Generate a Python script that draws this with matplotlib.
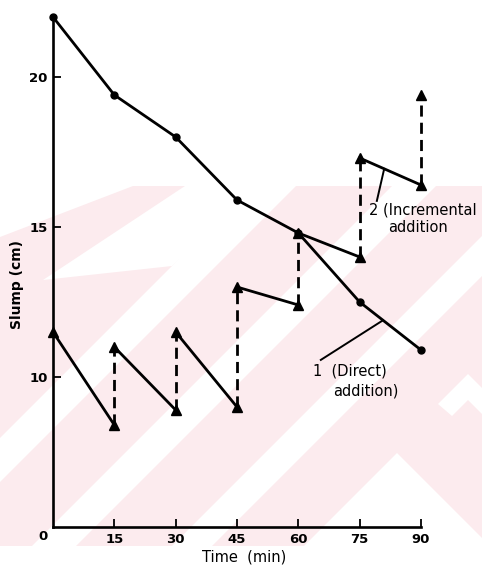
import matplotlib
matplotlib.use("Agg")
import matplotlib.pyplot as plt
from matplotlib.patches import Polygon, Rectangle

# Slump loss with time: retarder added all at once vs. in increments
time_min = [0, 15, 30, 45, 60, 75, 90]
direct_slump = [22.0, 19.4, 18.0, 15.9, 14.8, 12.5, 10.9]
# incremental addition: slump just before and just after each dose
incr_before = [None, 8.4, 8.9, 9.0, 12.4, 14.0, 16.4]
incr_after = [11.5, 11.0, 11.5, 13.0, 14.8, 17.3, 19.4]

x_ticks = [15, 30, 45, 60, 75, 90]
y_ticks = [10, 15, 20]

W, H = 482, 566
fig = plt.figure(figsize=(W / 100, H / 100), dpi=100)

# light pink diagonal backdrop (pixel coordinates, y downward)
bg = fig.add_axes([0, 0, 1, 1], zorder=0)
bg.set_xlim(0, W)
bg.set_ylim(H, 0)
bg.axis("off")
pink = "#fcebee"
area = Rectangle((0, 186), W, 360, facecolor=pink, edgecolor="none")
bg.add_patch(area)


def band(c0, c1):
    return [(-200, c0 + 200), (900, c0 - 900), (900, c1 - 900), (-200, c1 + 200)]


white_shapes = [
    [(-10, 150), (140, 150), (133, 186), (0, 237), (-10, 240)],
    [(43, 280), (185, 186), (262, 186), (172, 266)],
    band(438, 482),
    band(578, 622),
    band(718, 758),
    [(397, 453), (97, 753), (697, 753)],
    [(438, 404), (468, 374), (600, 506), (600, 532), (468, 400), (452, 416)],
]
for pts in white_shapes:
    p = Polygon(pts, closed=True, facecolor="white", edgecolor="none")
    bg.add_patch(p)
    p.set_clip_path(area)

# main plot
ax = fig.add_axes([53 / W, 1 - 527 / H, (421 - 53) / W, (527 - 17) / H], zorder=1)
ax.patch.set_alpha(0)
ax.set_xlim(0, 90)
ax.set_ylim(5, 22)

lw = 2.0
ax.plot(time_min, direct_slump, color="black", lw=lw, marker="o", ms=5,
        solid_joinstyle="round", clip_on=False, zorder=3)

for i in range(len(time_min) - 1):
    ax.plot([time_min[i], time_min[i + 1]], [incr_after[i], incr_before[i + 1]],
            color="black", lw=lw, clip_on=False, zorder=3)
for i in range(1, len(time_min)):
    ax.plot([time_min[i], time_min[i]], [incr_before[i], incr_after[i]],
            color="black", lw=lw, linestyle=(0, (4.0, 2.2)), clip_on=False, zorder=3)

tri_x = [time_min[0]] + [t for t in time_min[1:] for _ in (0, 1)]
tri_y = [incr_after[0]] + [v for i in range(1, len(time_min))
                           for v in (incr_before[i], incr_after[i])]
ax.plot(tri_x, tri_y, linestyle="none", marker="^", ms=6.5, color="black",
        clip_on=False, zorder=4)

for side in ("top", "right"):
    ax.spines[side].set_visible(False)
for side in ("left", "bottom"):
    ax.spines[side].set_linewidth(1.9)

tick_font = dict(fontsize=9.5, fontweight="bold")
ax.set_xticks(x_ticks)
ax.set_xticklabels([str(t) for t in x_ticks], **tick_font)
ax.set_yticks(y_ticks)
ax.set_yticklabels([str(t) for t in y_ticks], **tick_font)
ax.tick_params(direction="in", length=6, width=1.3, pad=4)
ax.text(-2.5, 5 - 0.33, "0", ha="center", va="center", **tick_font)

ax.set_xlabel("Time  (min)", fontsize=10.5, labelpad=2)
ax.xaxis.set_label_coords(0.52, -0.045)
ax.set_ylabel("Slump (cm)", fontsize=10, fontweight="bold")
ax.yaxis.set_label_coords(-0.08, 0.476)

# curve labels with leader lines
ax.plot([79.2, 81.0], [15.87, 16.94], color="black", lw=1.4, zorder=3)
ax.text(77.2, 15.57, "2 (Incremental", fontsize=10.5, va="center", ha="left",
        clip_on=False)
ax.text(81.9, 14.97, "addition", fontsize=10.5, va="center", ha="left")

ax.plot([65.5, 80.7], [10.57, 11.89], color="black", lw=1.4, zorder=3)
ax.text(63.5, 10.2, "1  (Direct)", fontsize=10.5, va="center", ha="left")
ax.text(68.4, 9.53, "addition)", fontsize=10.5, va="center", ha="left")

fig.savefig("out.png", dpi=100)
